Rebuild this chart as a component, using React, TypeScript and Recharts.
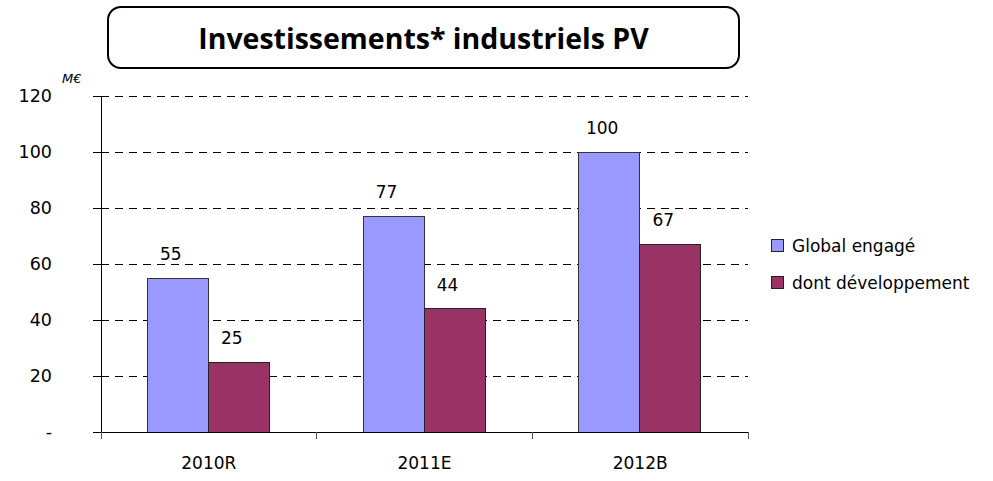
import React from 'react';
import { BarChart, Bar, XAxis, YAxis, CartesianGrid, LabelList } from 'recharts';

const categories = ['2010R', '2011E', '2012B'];
const globalEngage = [55, 77, 100];
const dontDeveloppement = [25, 44, 67];
const yTicks = [0, 20, 40, 60, 80, 100, 120];

const BLUE = '#9999FF';
const MAROON = '#993366';
const FONT = '"Comic Sans MS", "DejaVu Sans", sans-serif';

const W = 993;
const H = 481;
const PLOT_LEFT = 101;
const PLOT_RIGHT = 748;
const BAND = (PLOT_RIGHT - PLOT_LEFT) / categories.length;

const data = categories.map((name, i) => ({
  name,
  global: globalEngage[i],
  dev: dontDeveloppement[i],
}));

const CategoryTick = (props: any) => {
  const { x, y, payload, index } = props;
  const left = x - BAND / 2;
  return (
    <g shapeRendering="crispEdges">
      <line x1={left} y1={y - 8} x2={left} y2={y - 1} stroke="#555" />
      {index === categories.length - 1 && (
        <line x1={x + BAND / 2} y1={y - 8} x2={x + BAND / 2} y2={y - 1} stroke="#555" />
      )}
      <text x={x} y={y + 29} textAnchor="middle" fontFamily={FONT} fontSize={17} fill="#000">
        {payload.value}
      </text>
    </g>
  );
};

const ValueLabel = (props: any) => {
  const { x, y, width, value } = props;
  return (
    <text x={x + width / 2 - 7} y={y - 23} textAnchor="middle" dominantBaseline="middle"
      fontFamily={FONT} fontSize={17} fill="#000">
      {value}
    </text>
  );
};

const legendItems = [
  { label: 'Global engagé', color: BLUE },
  { label: 'dont développement', color: MAROON },
];

export default function App() {
  return (
    <div style={{ position: 'absolute', left: 0, top: 0, width: W, height: H, background: '#fff' }}>
      <div style={{
        position: 'absolute', left: 107, top: 6, width: 629, height: 59,
        border: '2px solid #000', borderRadius: 14, display: 'flex',
        alignItems: 'center', justifyContent: 'center',
        fontFamily: '"Open Sans", "Liberation Sans", sans-serif', fontWeight: 700, fontSize: 28.5,
      }}>
        Investissements* industriels PV
      </div>
      <div style={{
        position: 'absolute', left: 62, top: 71, fontFamily: FONT, fontSize: 13, fontStyle: 'italic',
      }}>
        M€
      </div>
      <BarChart width={W} height={H} data={data}
        margin={{ top: 96, right: W - PLOT_RIGHT, bottom: 0, left: 0 }}
        barCategoryGap="21.5%" barGap={0}>
        <CartesianGrid vertical={false} stroke="#000" strokeDasharray="8 6" shapeRendering="crispEdges" />
        <XAxis dataKey="name" height={49} axisLine={{ stroke: '#000', shapeRendering: 'crispEdges' }} tickLine={false}
          tick={<CategoryTick />} interval={0} />
        <YAxis width={PLOT_LEFT} domain={[0, 120]} ticks={yTicks}
          axisLine={{ stroke: '#000', shapeRendering: 'crispEdges' }}
          tickLine={{ stroke: '#000', shapeRendering: 'crispEdges' }} tickSize={8} tickMargin={41}
          tickFormatter={(v: number) => (v === 0 ? '-' : String(v))}
          tick={{ fontFamily: FONT, fontSize: 17.5, fill: '#000' }} />
        <Bar dataKey="global" name="Global engagé" fill={BLUE} stroke="#333" strokeWidth={1}
          shapeRendering="crispEdges" isAnimationActive={false}>
          <LabelList dataKey="global" content={<ValueLabel />} />
        </Bar>
        <Bar dataKey="dev" name="dont développement" fill={MAROON} stroke="#222" strokeWidth={1}
          shapeRendering="crispEdges" isAnimationActive={false}>
          <LabelList dataKey="dev" content={<ValueLabel />} />
        </Bar>
      </BarChart>
      <div style={{ position: 'absolute', left: 771, top: 227, fontFamily: FONT, fontSize: 17, color: '#000' }}>
        {legendItems.map((it) => (
          <div key={it.label} style={{ display: 'flex', alignItems: 'center', height: 37 }}>
            <span style={{ width: 11, height: 11, background: it.color, border: '1px solid #222', marginRight: 8 }} />
            <span>{it.label}</span>
          </div>
        ))}
      </div>
    </div>
  );
}
